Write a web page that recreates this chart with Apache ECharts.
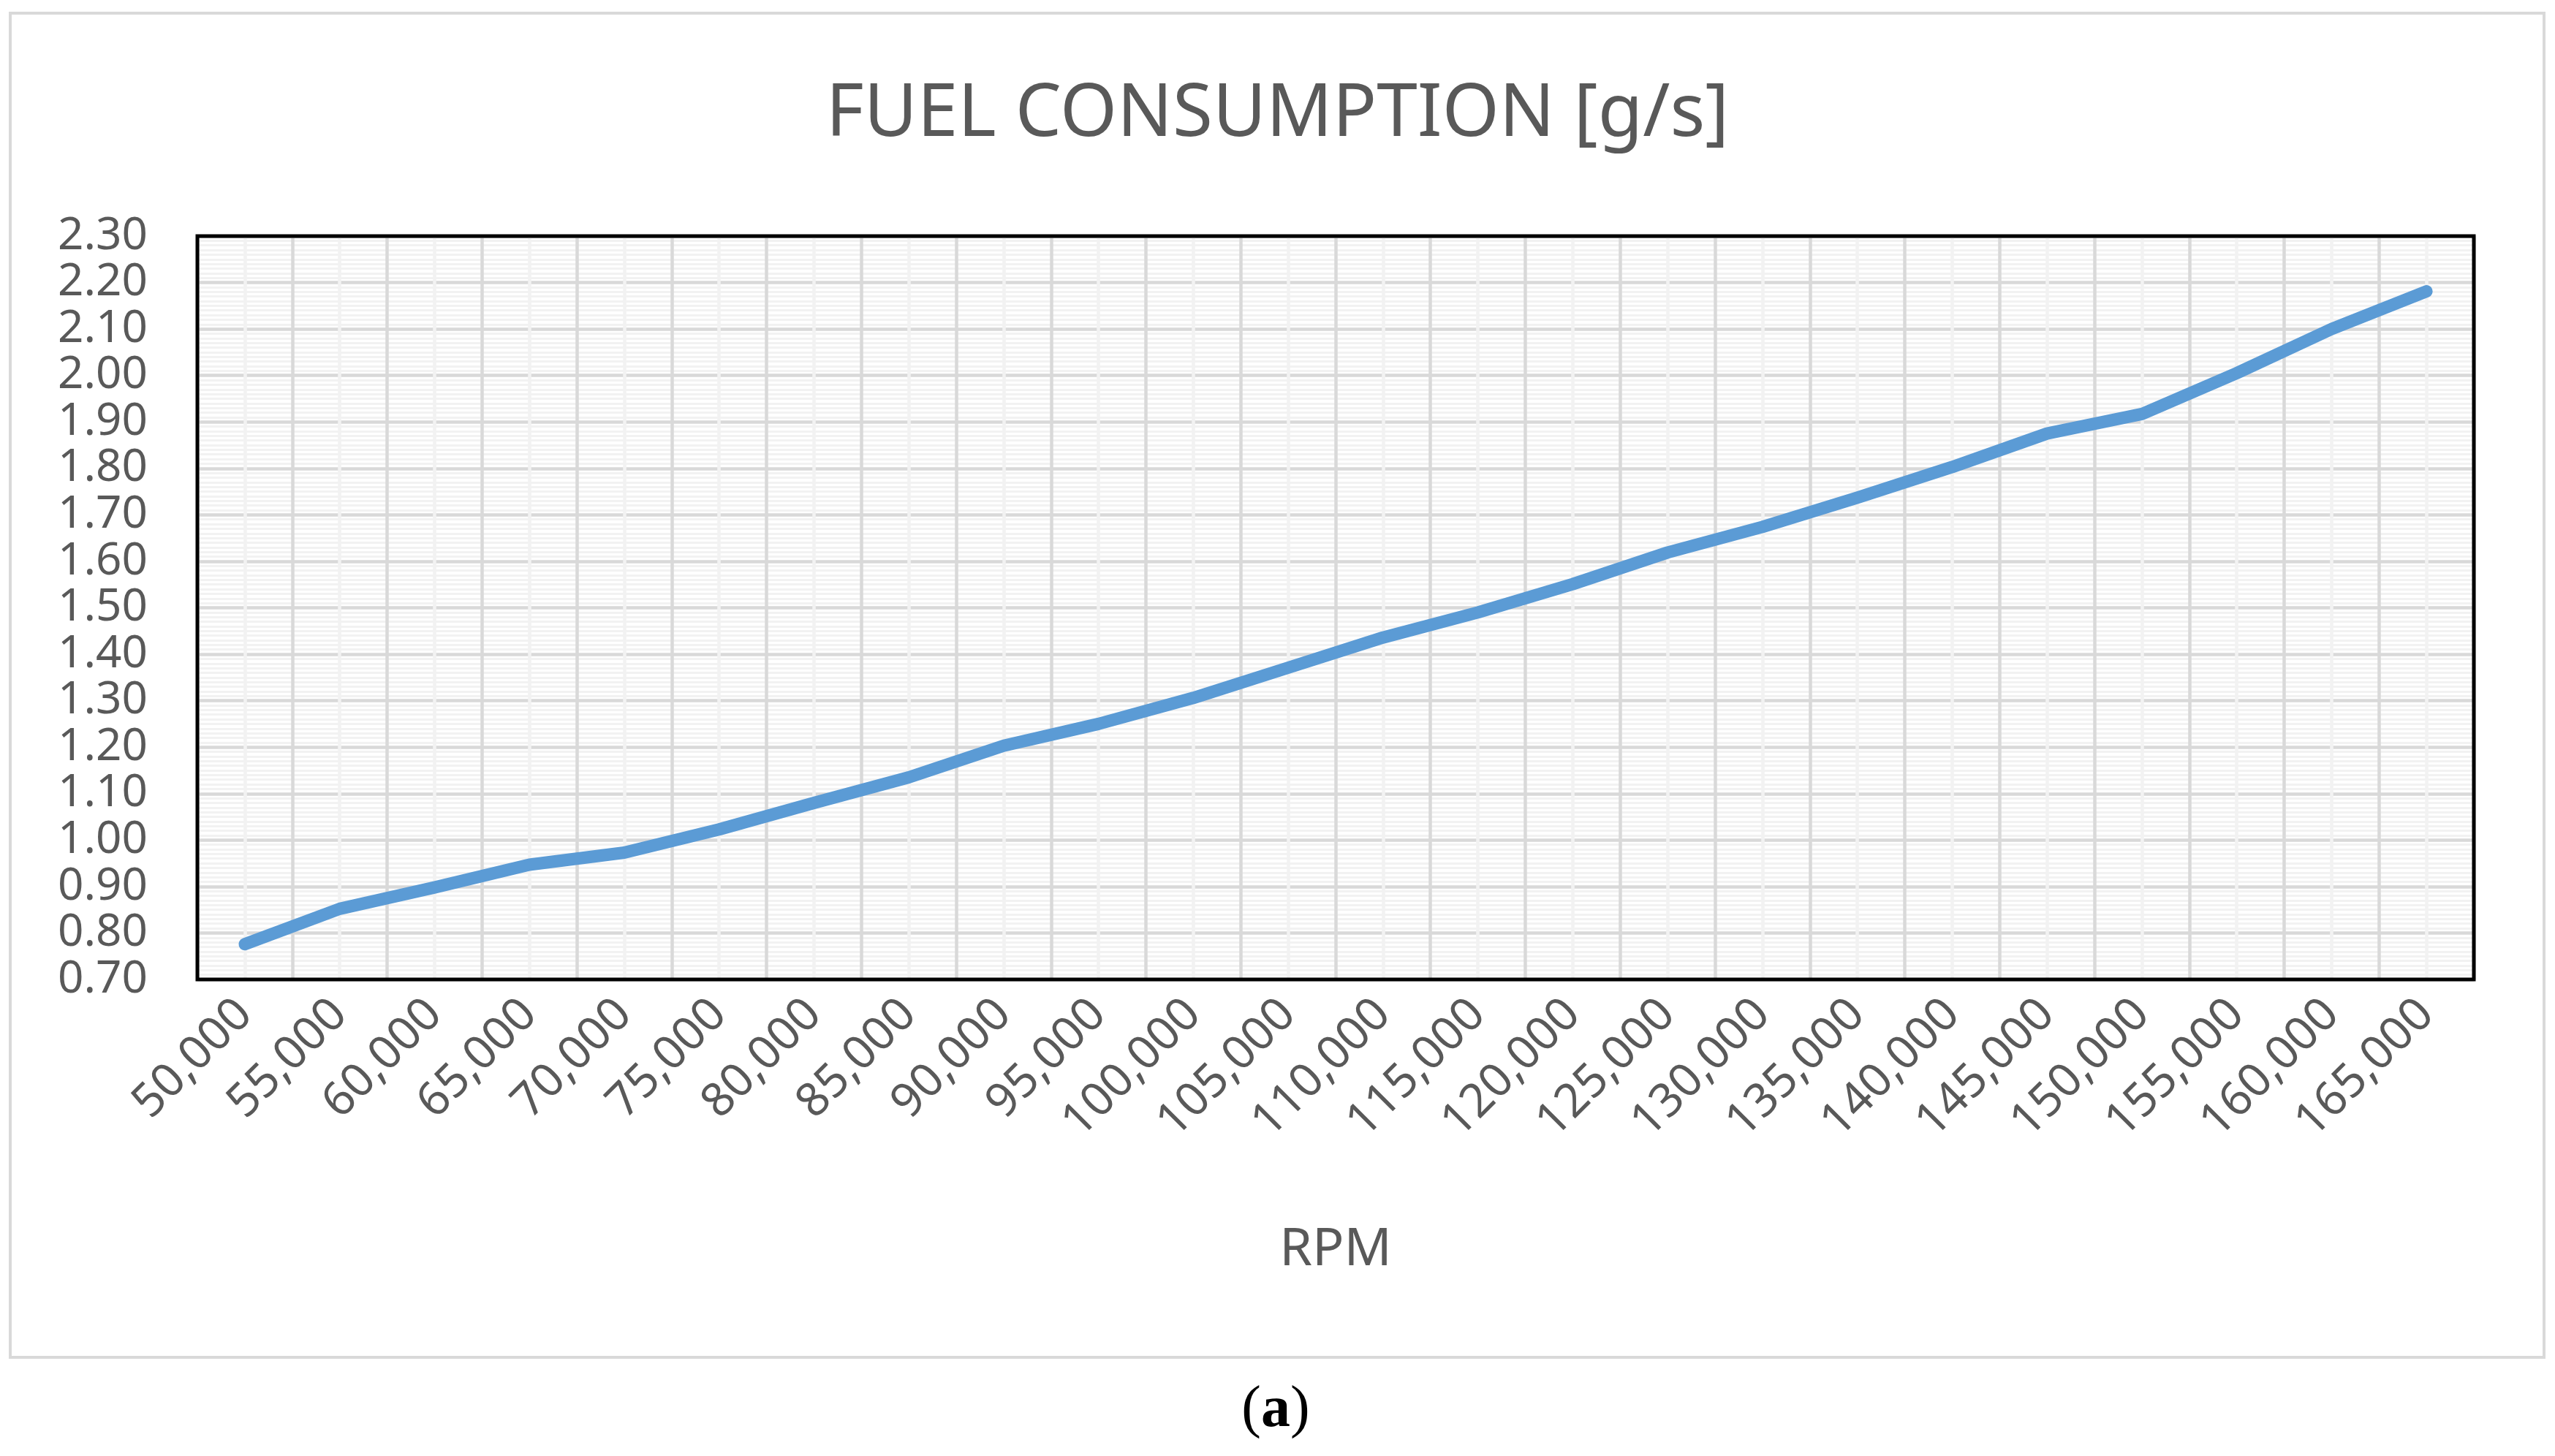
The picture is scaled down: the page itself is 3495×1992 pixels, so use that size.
<!DOCTYPE html>
<html>
<head>
<meta charset="utf-8">
<script src="https://cdn.jsdelivr.net/npm/echarts@6/dist/echarts.min.js"></script>
<style>
html,body{margin:0;padding:0;background:#fff;}
#chart{width:3495px;height:1992px;}
</style>
</head>
<body>
<div id="chart"></div>
<script>
const rpmLabels = ['50,000','55,000','60,000','65,000','70,000','75,000','80,000','85,000','90,000','95,000','100,000','105,000','110,000','115,000','120,000','125,000','130,000','135,000','140,000','145,000','150,000','155,000','160,000','165,000'];
const fuelValues = [0.776,0.852,0.898,0.947,0.973,1.023,1.080,1.135,1.203,1.250,1.306,1.371,1.436,1.490,1.551,1.619,1.674,1.737,1.803,1.875,1.917,2.005,2.100,2.181];
const yMin = 0.7, yMax = 2.3, yStep = 0.1;
const titleText = 'FUEL CONSUMPTION [g/s]';
const xName = 'RPM';
const captionLetter = 'a';

const chart = echarts.init(document.getElementById('chart'), null, {renderer:'canvas'});
const FONT = 'Noto Sans';
const GREY = '#595959';

chart.setOption({
  backgroundColor:'#ffffff',
  animation:false,
  title:{
    text:titleText, left:'center', top:103,
    textStyle:{fontFamily:FONT, fontSize:100, fontWeight:'normal', color:GREY}
  },
  grid:{left:270, right:111, top:323, bottom:652, containLabel:false, outerBoundsMode:'none',
        show:true, borderColor:'#000', borderWidth:5, backgroundColor:'transparent', z:3},
  xAxis:[{
    type:'category', data:rpmLabels, boundaryGap:true, position:'bottom',
    axisLine:{show:false}, axisTick:{show:false},
    axisLabel:{interval:0, rotate:45, margin:38, fontFamily:FONT, fontSize:64, color:GREY, hideOverlap:false},
    splitLine:{show:true, interval:0, lineStyle:{color:'#d9d9d9', width:4.5}},
    name:xName, nameLocation:'middle', nameGap:334,
    nameTextStyle:{fontFamily:FONT, fontSize:72, color:GREY}
  },{
    type:'value', min:0, max:rpmLabels.length, interval:1, position:'top',
    axisLine:{show:false}, axisTick:{show:false}, axisLabel:{show:false},
    splitLine:{show:false},
    minorTick:{show:false, splitNumber:2},
    minorSplitLine:{show:true, lineStyle:{color:'#f2f2f2', width:4.5}}
  }],
  yAxis:{
    type:'value', min:yMin, max:yMax, interval:yStep,
    axisLine:{show:false}, axisTick:{show:false},
    axisLabel:{margin:68, fontFamily:FONT, fontSize:62, lineHeight:40, color:GREY, formatter:v=>v.toFixed(2),
               showMinLabel:true, showMaxLabel:true, hideOverlap:false},
    splitLine:{show:true, lineStyle:{color:'#d9d9d9', width:4.5}},
    minorTick:{show:false, splitNumber:10},
    minorSplitLine:{show:true, lineStyle:{color:'#f2f2f2', width:3}}
  },
  series:[{
    type:'line', xAxisIndex:0, data:fuelValues, symbol:'none', smooth:false, z:4,
    lineStyle:{color:'#5b9bd5', width:17, cap:'round', join:'round'}
  }],
  graphic:[
    {type:'rect', shape:{x:14, y:18, width:3466, height:1839}, style:{fill:null, stroke:'#d9d9d9', lineWidth:4}, silent:true},
    {type:'text', x:1745, y:1930, style:{
      text:'(' + '{b|' + captionLetter + '})', textAlign:'center', textVerticalAlign:'middle',
      fontFamily:'Liberation Serif', fontSize:80, fill:'#000',
      rich:{b:{fontFamily:'Liberation Serif', fontSize:80, fontWeight:'bold', fill:'#000'}}
    }}
  ]
});
</script>
</body>
</html>
